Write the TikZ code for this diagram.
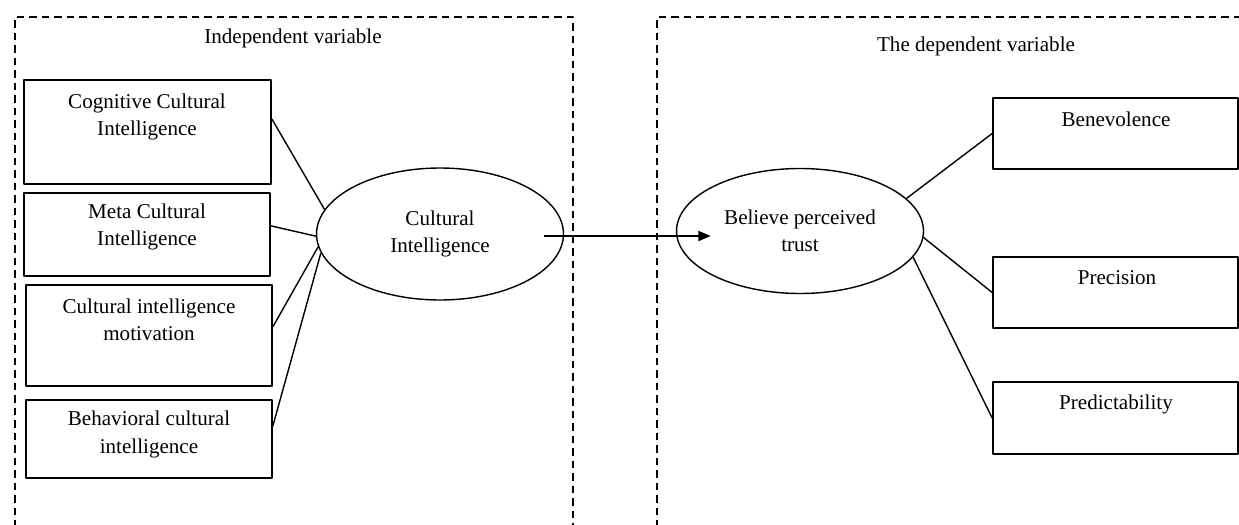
\documentclass[tikz,border=0pt]{standalone}
\usepackage{fontspec}
\setmainfont{Liberation Serif}
\usetikzlibrary{shapes.geometric,arrows.meta}
\begin{document}
\begin{tikzpicture}[x=0.02cm, y=-0.02cm, font=\fontsize{12}{15.5}\selectfont, line join=round, >={Triangle[length=0.25cm,width=0.2cm]},
	box/.style={draw, line width=1pt, inner sep=0pt},
	oval/.style={draw, ellipse, line width=0.8pt, align=center, inner sep=0pt},
	lbl/.style={align=center, inner sep=0pt},
	frame/.style={line width=1.1pt, dash pattern=on 0.15cm off 0.1cm},
	link/.style={line width=0.8pt}]
	\clip (0,0) rectangle (1239,524);
	\draw[frame] (15,540) -- (15,17) -- (573,17) -- (573,540);
	\draw[frame] (657,540) -- (657,17) -- (1260,17);
	\node[lbl] (iv) at (293,38) {Independent variable};
	\node[lbl] (dv) at (976,46) {The dependent variable};
	\node[box, minimum width=4.94cm, minimum height=2.08cm] (cog) at (147.5,132) {};
	\node[box, minimum width=4.92cm, minimum height=1.66cm] (meta) at (147,234.5) {};
	\node[box, minimum width=4.92cm, minimum height=2.02cm] (mot) at (149,335.5) {};
	\node[box, minimum width=4.92cm, minimum height=1.56cm] (beh) at (149,439) {};
	\node[lbl] (cog-t) at (147,117) {Cognitive Cultural\\Intelligence};
	\node[lbl] (meta-t) at (147,227) {Meta Cultural\\Intelligence};
	\node[lbl] (mot-t) at (149,319.5) {Cultural intelligence\\motivation};
	\node[lbl] (beh-t) at (149,434.5) {Behavioral cultural\\intelligence};
	\node[oval, minimum width=4.94cm, minimum height=2.64cm] (cul) at (440,234) {Cultural\\Intelligence};
	\node[oval, minimum width=4.94cm, minimum height=2.5cm] (bpt) at (800,231) {Believe perceived\\trust};
	\node[box, minimum width=4.9cm, minimum height=1.42cm] (ben) at (1115.5,133.5) {};
	\node[box, minimum width=4.9cm, minimum height=1.42cm] (pre) at (1115.5,292.5) {};
	\node[box, minimum width=4.9cm, minimum height=1.44cm] (prd) at (1115.5,418) {};
	\node[lbl] (ben-t) at (1116,119) {Benevolence};
	\node[lbl] (pre-t) at (1117,278) {Precision};
	\node[lbl] (prd-t) at (1116,404) {Predictability};
	\draw[link] (cog.6) -- (cul.168);
	\draw[link] (meta.4) -- (cul.181);
	\draw[link] (mot.4) -- (cul.186);
	\draw[link] (beh.6) -- (cul.189);
	\draw[line width=1.1pt, ->] ([xshift=-0.4cm,yshift=-0.04cm]cul.east) -- ([xshift=0.7cm,yshift=-0.1cm]bpt.west);
	\draw[link] (bpt.17) -- (ben.west);
	\draw[link] (bpt.357) -- (pre.west);
	\draw[link] (bpt.347) -- (prd.west);
\end{tikzpicture}
\end{document}
